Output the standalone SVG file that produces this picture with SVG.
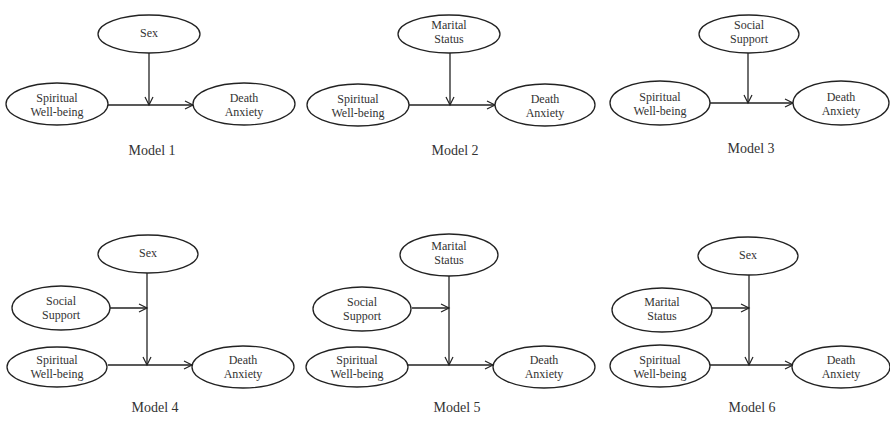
<svg xmlns="http://www.w3.org/2000/svg" width="890" height="422" viewBox="0 0 890 422">
<defs>
<marker id="arr" markerUnits="userSpaceOnUse" markerWidth="12" markerHeight="12" refX="9" refY="5" orient="auto">
<path d="M1,1 L9,5 L1,9" fill="none" stroke="#222" stroke-width="1.2"/>
</marker>
<style>
.n ellipse{fill:#fff;stroke:#222;stroke-width:1.3}
.n text,.lab{font-family:"Liberation Serif","Times New Roman",serif;font-size:12px;fill:#333;text-anchor:middle}
.lab{font-size:14px}
.c line{stroke:#222;stroke-width:1.3;fill:none}
.c .a{marker-end:url(#arr)}
</style>
</defs>
<rect width="890" height="422" fill="#fff"/>
<g class="c" id="connectors">
<!-- Model 1 -->
<line x1="108" y1="105" x2="193" y2="105" class="a"/>
<line x1="149" y1="53" x2="149" y2="105" class="a"/>
<!-- Model 2 -->
<line x1="409" y1="105" x2="495" y2="105" class="a"/>
<line x1="450" y1="53" x2="450" y2="105" class="a"/>
<!-- Model 3 -->
<line x1="709" y1="103" x2="793" y2="103" class="a"/>
<line x1="748" y1="53" x2="748" y2="103" class="a"/>
<!-- Model 4 -->
<line x1="108" y1="365" x2="192" y2="365" class="a"/>
<line x1="147" y1="273" x2="147" y2="365" class="a"/>
<line x1="110" y1="308" x2="147" y2="308" class="a"/>
<!-- Model 5 -->
<line x1="408" y1="365" x2="493" y2="365" class="a"/>
<line x1="449" y1="276" x2="449" y2="365" class="a"/>
<line x1="412" y1="308" x2="449" y2="308" class="a"/>
<!-- Model 6 -->
<line x1="710" y1="365" x2="793" y2="365" class="a"/>
<line x1="749" y1="275" x2="749" y2="365" class="a"/>
<line x1="712" y1="308" x2="749" y2="308" class="a"/>
</g>
<!-- Model 1 -->
<g class="n" id="m1-sex"><ellipse cx="149" cy="34" rx="51" ry="19"/><text x="149" y="37">Sex</text></g>
<g class="n" id="m1-swb"><ellipse cx="57" cy="104" rx="51" ry="21"/><text x="57" y="102">Spiritual</text><text x="57" y="116">Well-being</text></g>
<g class="n" id="m1-da"><ellipse cx="244" cy="104" rx="51" ry="21"/><text x="244" y="102">Death</text><text x="244" y="116">Anxiety</text></g>
<text class="lab" x="152" y="155">Model 1</text>
<!-- Model 2 -->
<g class="n" id="m2-ms"><ellipse cx="449" cy="34" rx="51" ry="19"/><text x="449" y="29">Marital</text><text x="449" y="43">Status</text></g>
<g class="n" id="m2-swb"><ellipse cx="358" cy="105" rx="51" ry="21"/><text x="358" y="103">Spiritual</text><text x="358" y="117">Well-being</text></g>
<g class="n" id="m2-da"><ellipse cx="545" cy="105" rx="50" ry="21"/><text x="545" y="103">Death</text><text x="545" y="117">Anxiety</text></g>
<text class="lab" x="455" y="155">Model 2</text>
<!-- Model 3 -->
<g class="n" id="m3-ss"><ellipse cx="749" cy="34" rx="50" ry="19"/><text x="749" y="29">Social</text><text x="749" y="43">Support</text></g>
<g class="n" id="m3-swb"><ellipse cx="660" cy="103" rx="50" ry="22"/><text x="660" y="101">Spiritual</text><text x="660" y="115">Well-being</text></g>
<g class="n" id="m3-da"><ellipse cx="841" cy="103" rx="48" ry="22"/><text x="841" y="101">Death</text><text x="841" y="115">Anxiety</text></g>
<text class="lab" x="751" y="153">Model 3</text>
<!-- Model 4 -->
<g class="n" id="m4-sex"><ellipse cx="148" cy="254" rx="50" ry="19"/><text x="148" y="257">Sex</text></g>
<g class="n" id="m4-ss"><ellipse cx="61" cy="308" rx="49" ry="22"/><text x="61" y="305">Social</text><text x="61" y="319">Support</text></g>
<g class="n" id="m4-swb"><ellipse cx="57" cy="367" rx="50" ry="20"/><text x="57" y="364">Spiritual</text><text x="57" y="378">Well-being</text></g>
<g class="n" id="m4-da"><ellipse cx="243" cy="367" rx="51" ry="21"/><text x="243" y="364">Death</text><text x="243" y="378">Anxiety</text></g>
<text class="lab" x="155" y="412">Model 4</text>
<!-- Model 5 -->
<g class="n" id="m5-ms"><ellipse cx="449" cy="255" rx="49" ry="21"/><text x="449" y="250">Marital</text><text x="449" y="264">Status</text></g>
<g class="n" id="m5-ss"><ellipse cx="362" cy="309" rx="49" ry="22"/><text x="362" y="306">Social</text><text x="362" y="320">Support</text></g>
<g class="n" id="m5-swb"><ellipse cx="357" cy="367" rx="51" ry="20"/><text x="357" y="364">Spiritual</text><text x="357" y="378">Well-being</text></g>
<g class="n" id="m5-da"><ellipse cx="544" cy="367" rx="51" ry="21"/><text x="544" y="364">Death</text><text x="544" y="378">Anxiety</text></g>
<text class="lab" x="457" y="412">Model 5</text>
<!-- Model 6 -->
<g class="n" id="m6-sex"><ellipse cx="748" cy="256" rx="50" ry="19"/><text x="748" y="259">Sex</text></g>
<g class="n" id="m6-ms"><ellipse cx="662" cy="310" rx="50" ry="22"/><text x="662" y="306">Marital</text><text x="662" y="320">Status</text></g>
<g class="n" id="m6-swb"><ellipse cx="660" cy="366" rx="50" ry="21"/><text x="660" y="364">Spiritual</text><text x="660" y="378">Well-being</text></g>
<g class="n" id="m6-da"><ellipse cx="841" cy="367" rx="49" ry="21"/><text x="841" y="364">Death</text><text x="841" y="378">Anxiety</text></g>
<text class="lab" x="752" y="412">Model 6</text>
</svg>
